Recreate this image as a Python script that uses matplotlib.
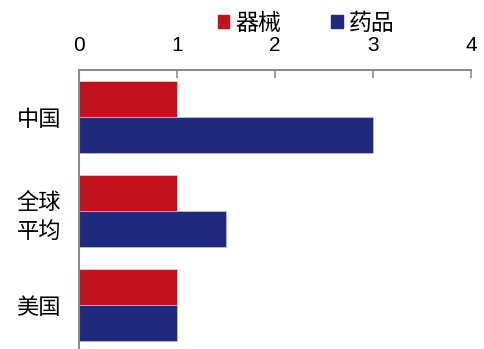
import matplotlib
matplotlib.use("Agg")
import matplotlib.pyplot as plt
from matplotlib.patches import Patch
import numpy as np

plt.rcParams['font.family'] = ['Liberation Sans', 'Noto Sans CJK SC', 'DejaVu Sans']

categories = ["中国", "全球\n平均", "美国"]
series_names = ["器械", "药品"]
device = [1, 1, 1]
drug = [3, 1.5, 1]
colors = ["#C3121F", "#1F2A7E"]

fig = plt.figure(figsize=(4.85, 3.49), dpi=100)
ax = fig.add_axes([79 / 485, 1 - 352 / 349, 392 / 485, 282 / 349])

y = np.arange(len(categories))
h = 0.383
ax.barh(y - h / 2, device, height=h, color=colors[0], edgecolor="#e8e8f0", linewidth=0.4)
ax.barh(y + h / 2, drug, height=h, color=colors[1], edgecolor="#d0d0e8", linewidth=0.4)

ax.set_xlim(0, 4)
ax.set_ylim(len(categories) - 0.5, -0.5)
ax.set_xticks([0, 1, 2, 3, 4])
ax.set_yticks(y)
ax.set_yticklabels(categories, fontsize=16, family=['Noto Sans CJK SC', 'DejaVu Sans'],
                   linespacing=1.35)
ax.xaxis.tick_top()
ax.tick_params(axis="x", direction="in", length=5.5, width=1.2, color="#8c8c8c",
               labelsize=15, pad=11)
ax.tick_params(axis="y", length=0, pad=13)

for s in ["right", "bottom"]:
    ax.spines[s].set_visible(False)
for s in ["top", "left"]:
    ax.spines[s].set_color("#8c8c8c")
    ax.spines[s].set_linewidth(1.5)

handles = [Patch(color=c, label=n) for c, n in zip(colors, series_names)]
fig.legend(handles=handles, loc="center", bbox_to_anchor=(306 / 485, 1 - 23 / 349),
           ncol=2, frameon=False, handlelength=0.5, handleheight=0.5,
           handletextpad=0.25, columnspacing=2.2,
           prop={"family": ['Noto Sans CJK SC', 'DejaVu Sans'], "size": 16.5})

fig.savefig("out.png", dpi=100)
